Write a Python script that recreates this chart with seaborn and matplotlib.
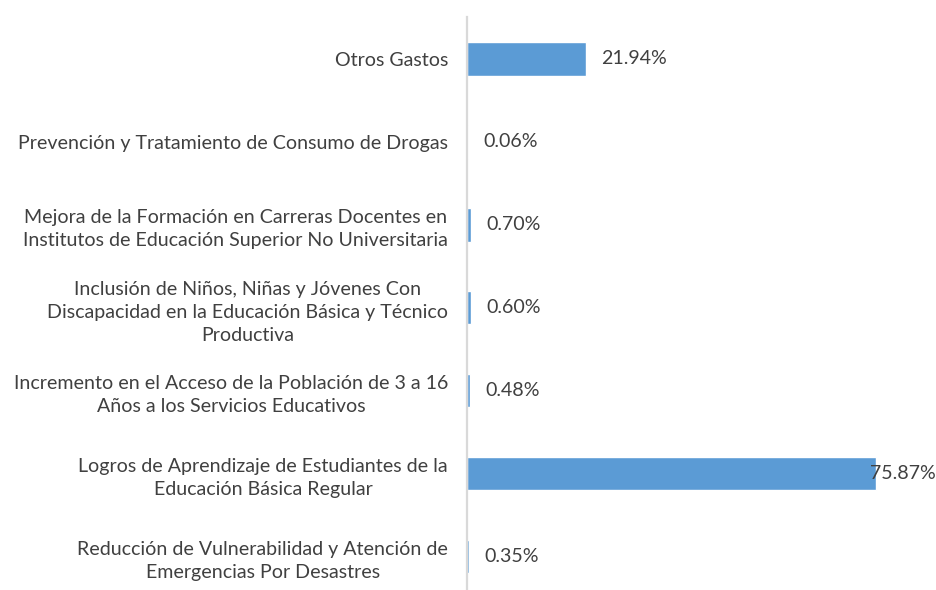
import pandas as pd
import seaborn as sns
import matplotlib.pyplot as plt

categories = [
    'Otros Gastos',
    'Prevención y Tratamiento de Consumo de Drogas',
    'Mejora de la Formación en Carreras Docentes en\nInstitutos de Educación Superior No Universitaria',
    'Inclusión de Niños, Niñas y Jóvenes Con\nDiscapacidad en la Educación Básica y Técnico\nProductiva',
    'Incremento en el Acceso de la Población de 3 a 16\nAños a los Servicios Educativos',
    'Logros de Aprendizaje de Estudiantes de la\nEducación Básica Regular',
    'Reducción de Vulnerabilidad y Atención de\nEmergencias Por Desastres',
]
shares = [21.94, 0.06, 0.70, 0.60, 0.48, 75.87, 0.35]

text_color = '#404040'
fsize = 14.1

sns.set_style('white')
plt.rcParams['font.family'] = ['Lato', 'DejaVu Sans']

df = pd.DataFrame({'cat': categories, 'pct': shares})

fig = plt.figure(figsize=(9.37, 5.9), dpi=100)
ax = fig.add_axes([467.5 / 937, 0.0, 1 - 467.5 / 937, 1 - 17 / 590])

sns.barplot(data=df, y='cat', x='pct', orient='h', color='#5B9BD5',
            width=0.4, saturation=1, ax=ax)

ax.set_xlim(0, 469.5 / 5.384)
ax.set_ylim(6.4, -0.506)
ax.set_xlabel('')
ax.set_ylabel('')
ax.set_xticks([])
ax.tick_params(axis='y', length=0, pad=14, labelsize=fsize, labelcolor=text_color)
for lbl in ax.get_yticklabels():
    lbl.set_multialignment('center')
    lbl.set_linespacing(1.42)

sns.despine(ax=ax, top=True, right=True, bottom=True)
ax.spines['left'].set_color('#D9D9D9')
ax.spines['left'].set_linewidth(1.6)

# data labels, the largest one gets pushed back inside the plot area
xmax = ax.get_xlim()[1]
for i, v in enumerate(shares):
    if v > 0.8 * xmax:
        ax.text(0.998, i, f'{v:.2f}%', transform=ax.get_yaxis_transform(),
                ha='right', va='center', fontsize=fsize, color=text_color)
    else:
        ax.annotate(f'{v:.2f}%', (v, i), xytext=(11, 0), textcoords='offset points',
                    ha='left', va='center', fontsize=fsize, color=text_color)

plt.savefig('out.png', dpi=100)
plt.close()
